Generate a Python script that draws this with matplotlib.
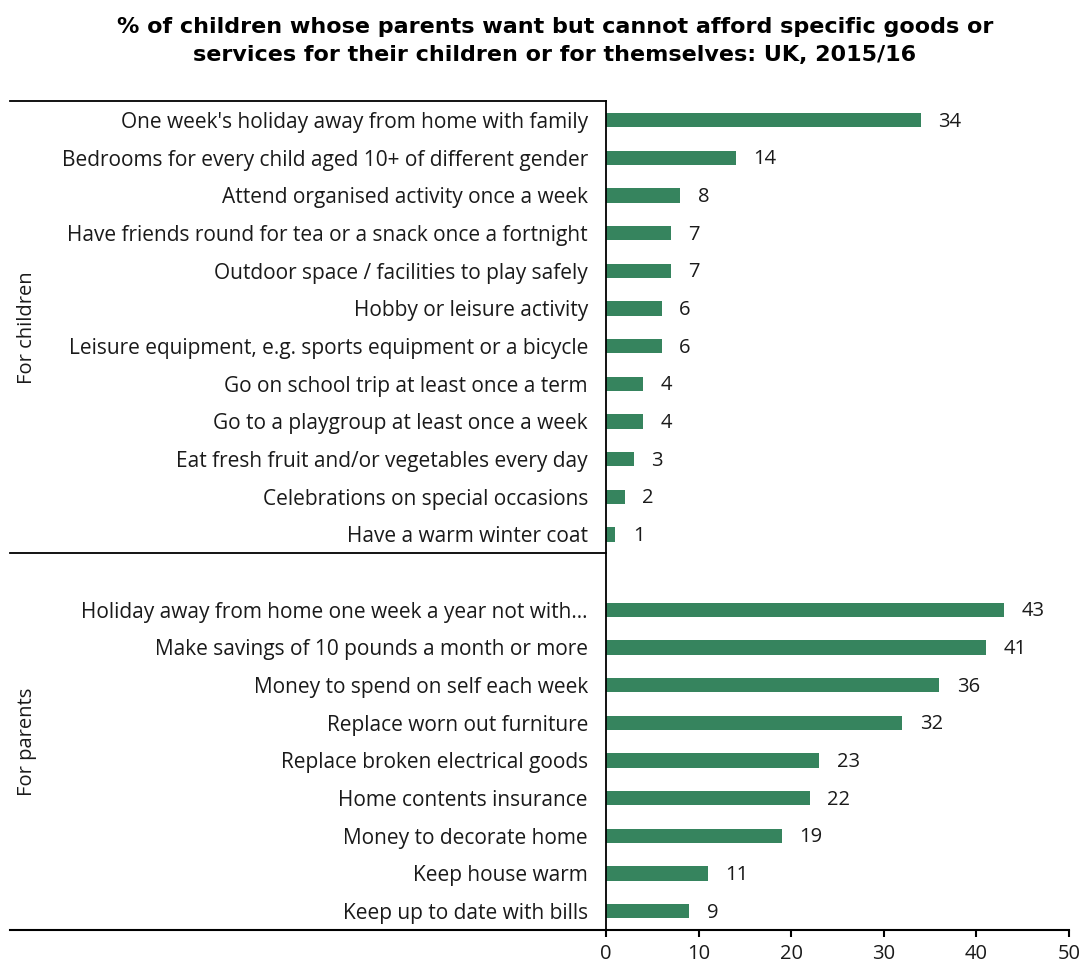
import matplotlib.pyplot as plt
import numpy as np

# Data
child_items = [
    "One week's holiday away from home with family",
    "Bedrooms for every child aged 10+ of different gender",
    "Attend organised activity once a week",
    "Have friends round for tea or a snack once a fortnight",
    "Outdoor space / facilities to play safely",
    "Hobby or leisure activity",
    "Leisure equipment, e.g. sports equipment or a bicycle",
    "Go on school trip at least once a term",
    "Go to a playgroup at least once a week",
    "Eat fresh fruit and/or vegetables every day",
    "Celebrations on special occasions",
    "Have a warm winter coat",
]
child_values = [34, 14, 8, 7, 7, 6, 6, 4, 4, 3, 2, 1]

parent_items = [
    "Holiday away from home one week a year not with\u2026",
    "Make savings of 10 pounds a month or more",
    "Money to spend on self each week",
    "Replace worn out furniture",
    "Replace broken electrical goods",
    "Home contents insurance",
    "Money to decorate home",
    "Keep house warm",
    "Keep up to date with bills",
]
parent_values = [43, 41, 36, 32, 23, 22, 19, 11, 9]

x_ticks = [0, 10, 20, 30, 40, 50]
bar_color = "#36845E"
text_color = "#1a1a1a"
font = ["Open Sans", "DejaVu Sans"]

plt.rcParams["font.family"] = font

fig = plt.figure(figsize=(10.88, 9.64), dpi=100)
ax = fig.add_axes([0.557, 0.0353, 0.4255, 0.8597])

# children rows 0..11, blank row 12, parents rows 13..21
child_pos = np.arange(len(child_items))
parent_pos = np.arange(len(parent_items)) + len(child_items) + 1
positions = np.concatenate([child_pos, parent_pos])
labels = child_items + parent_items
values = child_values + parent_values

ax.barh(positions, values, height=0.38, color=bar_color)
for p, v in zip(positions, values):
    ax.text(v + 1.9, p + 0.04, str(v), va="center", ha="left", fontsize=14.5, color=text_color)

ax.set_ylim(positions.max() + 0.5, -0.5)
ax.set_xlim(0, 50)
ax.set_yticks(positions)
ax.set_yticklabels(labels, fontsize=15, color=text_color)
ax.tick_params(axis="y", length=0, pad=13)
ax.set_xticks(x_ticks)
ax.set_xticklabels([str(t) for t in x_ticks], fontsize=14.5, color=text_color)
ax.tick_params(axis="x", length=5, width=1.5, direction="out", pad=5)

for s in ["top", "right"]:
    ax.spines[s].set_visible(False)
ax.spines["left"].set_linewidth(1.3)
ax.spines["bottom"].set_linewidth(1.5)

# horizontal group lines extending into the label area
ax_left = 0.557
line_left = 10 / 1088
def hline(y_data, x_end, lw):
    y_fig = fig.transFigure.inverted().transform(ax.transData.transform((0, y_data)))[1]
    fig.add_artist(plt.Line2D([line_left, x_end], [y_fig, y_fig], color="black", lw=lw))

hline(-0.5, ax_left, 1.3)
hline(len(child_items) - 0.5, ax_left, 1.3)
hline(positions.max() + 0.5, ax_left, 1.5)

# group labels
def group_label(text, y0, y1):
    yc = fig.transFigure.inverted().transform(ax.transData.transform((0, (y0 + y1) / 2)))[1]
    fig.text(27 / 1088, yc, text, rotation=90, ha="center", va="center", fontsize=14.5, color=text_color)

group_label("For children", -0.5, len(child_items) - 0.5)
group_label("For parents", len(child_items) - 0.5, positions.max() + 0.5)

fig.text(0.51, 0.982, "% of children whose parents want but cannot afford specific goods or\n"
         "services for their children or for themselves: UK, 2015/16",
         ha="center", va="top", fontsize=16, fontweight="bold", linespacing=1.45,
         family="DejaVu Sans")

fig.savefig("out.png", dpi=100)
